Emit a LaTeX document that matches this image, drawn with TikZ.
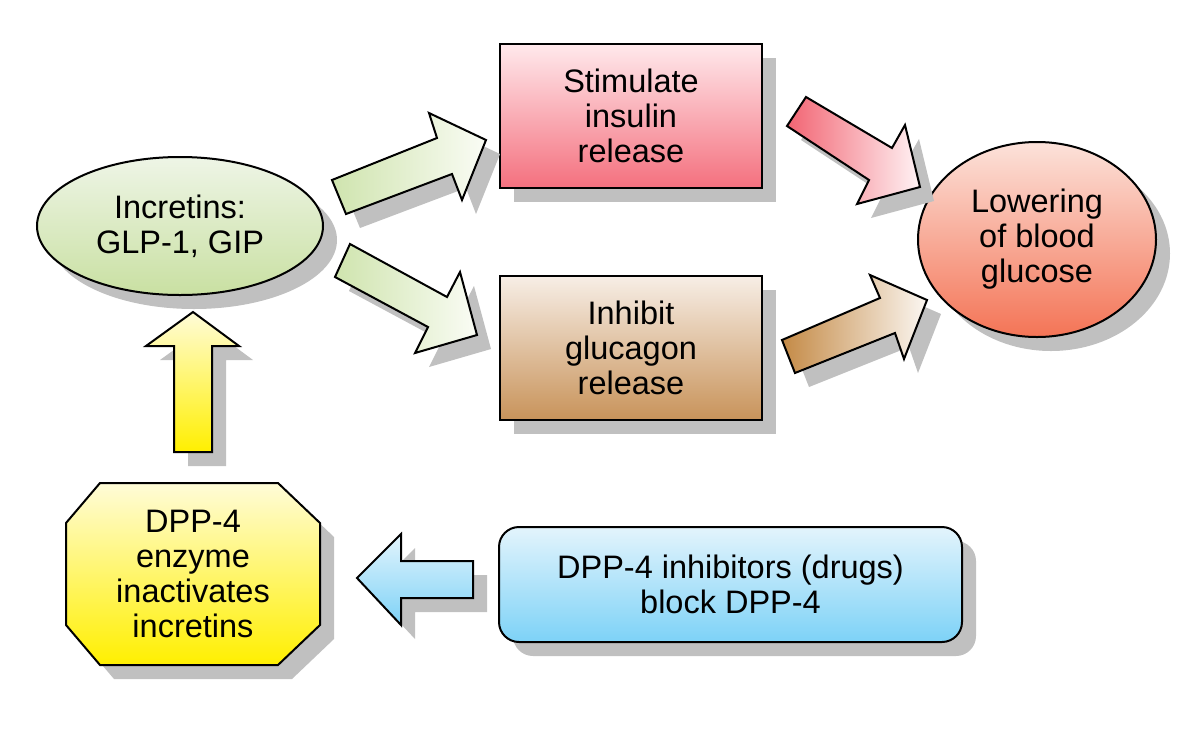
\documentclass[tikz,border=0pt]{standalone}
\usepackage{fontspec}
\setmainfont{Liberation Sans}
\usetikzlibrary{shapes.geometric,shadows}
\definecolor{shadowgray}{HTML}{C0C0C0}
\definecolor{ellTop}{HTML}{EEF5E6}
\definecolor{ellBot}{HTML}{C9E0A2}
\definecolor{grnTail}{HTML}{CFE4AE}
\definecolor{grnHead}{HTML}{FAFCF5}
\definecolor{stimTop}{HTML}{FFE9EC}
\definecolor{stimBot}{HTML}{F4707E}
\definecolor{inhTop}{HTML}{F7EEE6}
\definecolor{inhBot}{HTML}{C8935A}
\definecolor{redTail}{HTML}{F26472}
\definecolor{redHead}{HTML}{FFF3F5}
\definecolor{brnTail}{HTML}{C48A46}
\definecolor{brnHead}{HTML}{FBF7F2}
\definecolor{cirTop}{HTML}{FCE2DA}
\definecolor{cirBot}{HTML}{F47456}
\definecolor{ylwTop}{HTML}{FFFCD8}
\definecolor{ylwBot}{HTML}{FFEF00}
\definecolor{bluTop}{HTML}{E3F4FC}
\definecolor{bluBot}{HTML}{7DD2F7}
\begin{document}
\begin{tikzpicture}[x=1pt,y=-1pt,
  shad/.style={drop shadow={shadow xshift=14pt,shadow yshift=-14pt,fill=shadowgray,opacity=1}},
  boxsty/.style={draw=black,line width=2pt,shad},
  lbl/.style={align=center,font=\fontsize{32.5}{35}\selectfont,inner sep=0pt},
  blockarrow/.style={draw=black,line width=2pt,line join=miter,shad}]
\useasboundingbox (0,0) rectangle (1200,729);
\fill[white] (0,0) rectangle (1200,729);

% nodes
\node[ellipse,boxsty,lbl,minimum width=286pt,minimum height=138pt,
      top color=ellTop,bottom color=ellBot] (incr) at (180,226) {Incretins:\\GLP-1, GIP};
\node[rectangle,boxsty,lbl,minimum width=262pt,minimum height=144pt,
      top color=stimTop,bottom color=stimBot] (stim) at (631,116) {Stimulate\\insulin\\release};
\node[rectangle,boxsty,lbl,minimum width=262pt,minimum height=144pt,
      top color=inhTop,bottom color=inhBot] (inhib) at (631,348) {Inhibit\\glucagon\\release};
\node[ellipse,boxsty,lbl,minimum width=238pt,minimum height=195pt,
      top color=cirTop,bottom color=cirBot] (glu) at (1037,239.5) {Lowering\\of blood\\glucose};
\path[boxsty,top color=ylwTop,bottom color=ylwBot]
  (100,483) -- (278,483) -- (320,523) -- (320,625) -- (278,665) -- (100,665) -- (66,625) -- (66,523) -- cycle;
\node[lbl] (dpp) at (193,574) {DPP-4\\enzyme\\inactivates\\incretins};
\node[rectangle,rounded corners=20pt,boxsty,lbl,minimum width=463pt,minimum height=115pt,
      top color=bluTop,bottom color=bluBot] (drug) at (730.5,584.5) {DPP-4 inhibitors (drugs)\\block DPP-4};

% block arrows
\path[blockarrow,left color=grnTail,right color=grnHead]
  (332,180) -- (437,138) -- (429,113) -- (486,140) -- (462,200) -- (452,174) -- (346,214) -- cycle;
\path[blockarrow,left color=grnTail,right color=grnHead]
  (350,244) -- (447,297) -- (460,272) -- (477,335) -- (415,353) -- (428,327) -- (335,277) -- cycle;
\path[blockarrow,left color=redTail,right color=redHead]
  (806,97) -- (892,148) -- (905,125) -- (920,187) -- (857,204) -- (869,180) -- (787,126) -- cycle;
\path[blockarrow,left color=brnTail,right color=brnHead]
  (782,340) -- (880,298) -- (870,275) -- (927,300) -- (904,359) -- (895,333) -- (795,373) -- cycle;
\path[blockarrow,top color=ylwTop,bottom color=ylwBot]
  (174,452) -- (174,346) -- (146,346) -- (193,312) -- (239,346) -- (212,346) -- (212,452) -- cycle;
\path[blockarrow,top color=bluTop,bottom color=bluBot]
  (357,578) -- (401,534) -- (401,561) -- (473,561) -- (473,598) -- (401,598) -- (401,625) -- cycle;
\end{tikzpicture}
\end{document}
